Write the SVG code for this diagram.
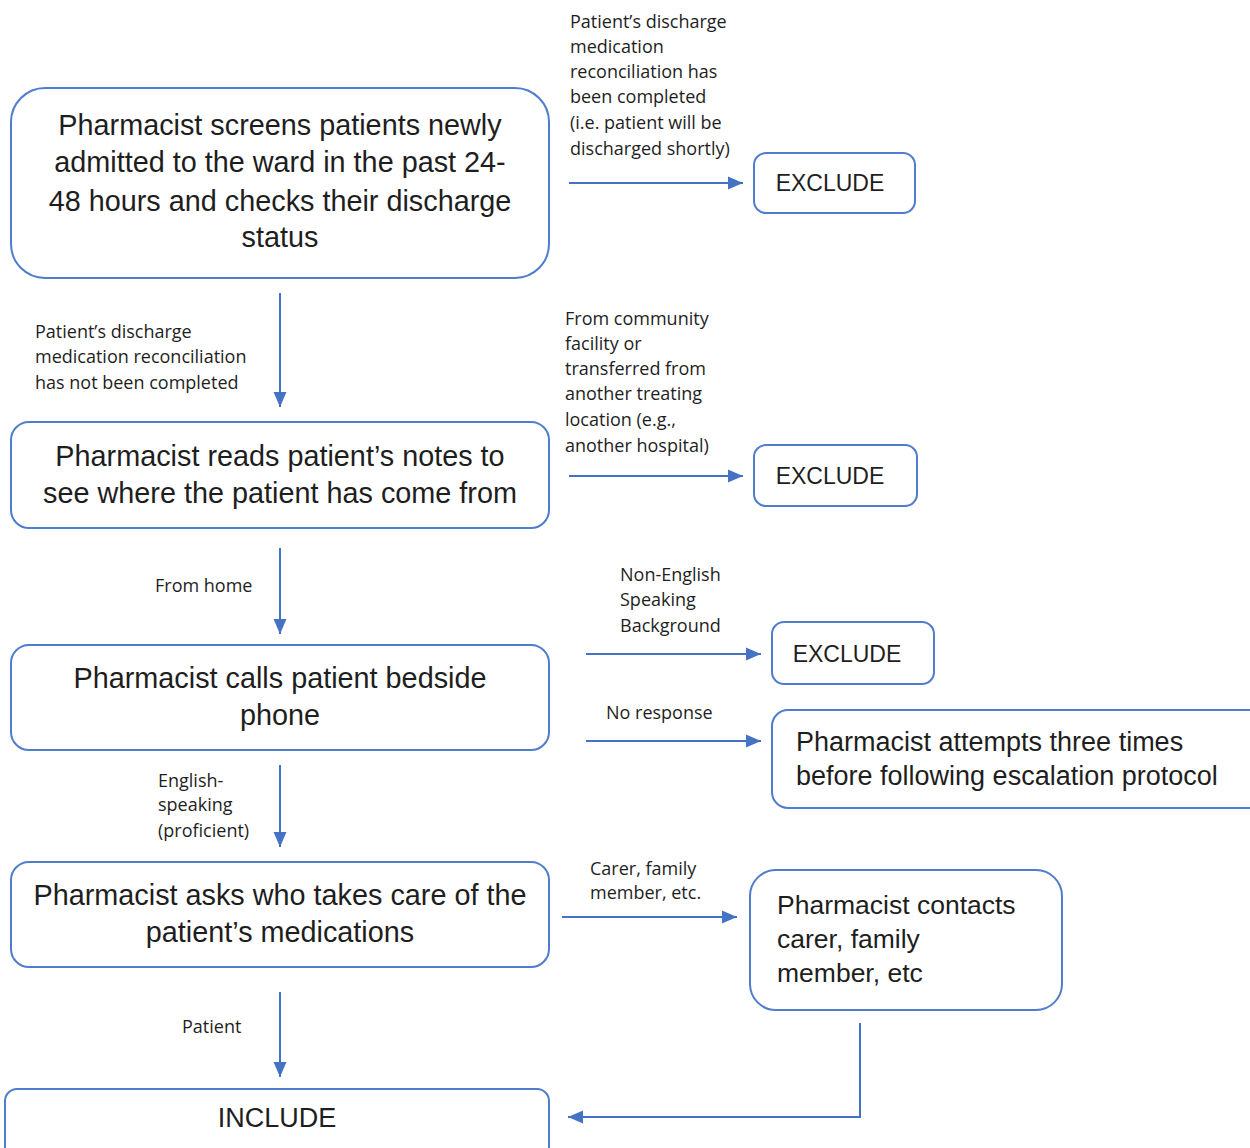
<svg xmlns="http://www.w3.org/2000/svg" width="1250" height="1148" viewBox="0 0 1250 1148">
<defs>
<marker id="ah" markerUnits="userSpaceOnUse" markerWidth="16" markerHeight="16" viewBox="0 0 16 16" refX="15" refY="8" orient="auto">
<path d="M0,1.5 L15,8 L0,14.5 Z" fill="#4472C4"/>
</marker>
</defs>
<style>
.box{fill:#fff;stroke:#4f7ccc;stroke-width:2}
.big{font-family:"Liberation Sans",Arial,sans-serif;font-size:27px;fill:#1e1e1e}
.lb{font-size:28.8px}
.mid{text-anchor:middle}
.sm{font-family:"Open Sans","Liberation Sans",sans-serif;font-size:18px;fill:#1e1e1e}
.con{fill:none;stroke:#4472C4;stroke-width:2;marker-end:url(#ah)}
</style>
<rect width="1250" height="1148" fill="#fff"/>

<g id="connectors">
<path class="con" d="M569,183 H743"/>
<path class="con" d="M280,293 V407"/>
<path class="con" d="M569,476 H743"/>
<path class="con" d="M280,548 V634"/>
<path class="con" d="M586,654 H761"/>
<path class="con" d="M586,741 H761"/>
<path class="con" d="M280,765 V847"/>
<path class="con" d="M562,917 H737"/>
<path class="con" d="M280,992 V1077"/>
<path class="con" d="M860,1023 V1117 H568"/>
<g class="sm">
<text x="570" y="28">Patient’s discharge</text>
<text x="570" y="53">medication</text>
<text x="570" y="78">reconciliation has</text>
<text x="570" y="103">been completed</text>
<text x="570" y="129">(i.e. patient will be</text>
<text x="570" y="155">discharged shortly)</text>
<text x="35" y="338">Patient’s discharge</text>
<text x="35" y="363">medication reconciliation</text>
<text x="35" y="389">has not been completed</text>
<text x="565" y="325">From community</text>
<text x="565" y="350">facility or</text>
<text x="565" y="375">transferred from</text>
<text x="565" y="400">another treating</text>
<text x="565" y="426">location (e.g.,</text>
<text x="565" y="452">another hospital)</text>
<text x="155" y="592">From home</text>
<text x="620" y="581">Non-English</text>
<text x="620" y="606">Speaking</text>
<text x="620" y="632">Background</text>
<text x="606" y="719">No response</text>
<text x="158" y="787">English-</text>
<text x="158" y="811">speaking</text>
<text x="158" y="837">(proficient)</text>
<text x="590" y="875">Carer, family</text>
<text x="590" y="899">member, etc.</text>
<text x="182" y="1033">Patient</text>
</g>
</g>

<g id="n1">
<rect class="box" x="11" y="88" width="538" height="190" rx="34"/>
<text class="big lb mid" x="280" y="135">Pharmacist screens patients newly</text>
<text class="big lb mid" x="280" y="172">admitted to the ward in the past 24-</text>
<text class="big lb mid" x="280" y="211">48 hours and checks their discharge</text>
<text class="big lb mid" x="280" y="247">status</text>
</g>
<g id="x1">
<rect class="box" x="754" y="153" width="161" height="60" rx="12"/>
<text class="big mid" x="830" y="191" style="font-size:23px">EXCLUDE</text>
</g>
<g id="n2">
<rect class="box" x="11" y="422" width="538" height="106" rx="18"/>
<text class="big lb mid" x="280" y="466">Pharmacist reads patient’s notes to</text>
<text class="big lb mid" x="280" y="503">see where the patient has come from</text>
</g>
<g id="x2">
<rect class="box" x="754" y="445" width="163" height="61" rx="12"/>
<text class="big mid" x="830" y="484" style="font-size:23px">EXCLUDE</text>
</g>
<g id="n3">
<rect class="box" x="11" y="645" width="538" height="105" rx="18"/>
<text class="big lb mid" x="280" y="688">Pharmacist calls patient bedside</text>
<text class="big lb mid" x="280" y="725">phone</text>
</g>
<g id="x3">
<rect class="box" x="772" y="622" width="162" height="62" rx="12"/>
<text class="big mid" x="847" y="662" style="font-size:23px">EXCLUDE</text>
</g>
<g id="n3b">
<rect class="box" x="772" y="710" width="500" height="98" rx="16"/>
<text class="big" x="796" y="751">Pharmacist attempts three times</text>
<text class="big" x="796" y="785">before following escalation protocol</text>
</g>
<g id="n4">
<rect class="box" x="11" y="862" width="538" height="105" rx="18"/>
<text class="big lb mid" x="280" y="905">Pharmacist asks who takes care of the</text>
<text class="big lb mid" x="280" y="942">patient’s medications</text>
</g>
<g id="n4b">
<rect class="box" x="750" y="870" width="312" height="140" rx="26"/>
<text class="big" x="777" y="914" style="font-size:26.5px">Pharmacist contacts</text>
<text class="big" x="777" y="948" style="font-size:26.5px">carer, family</text>
<text class="big" x="777" y="982" style="font-size:26.5px">member, etc</text>
</g>
<g id="n5">
<rect class="box" x="5" y="1089" width="544" height="80" rx="12"/>
<text class="big mid" x="277" y="1127">INCLUDE</text>
</g>
</svg>
